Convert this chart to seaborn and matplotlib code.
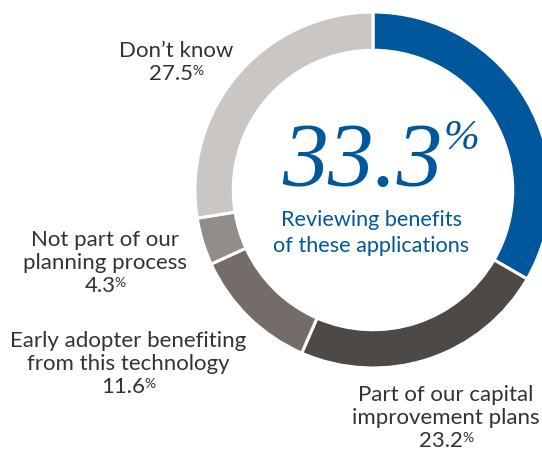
import matplotlib
matplotlib.use("Agg")
import matplotlib.pyplot as plt
import seaborn as sns

# slices clockwise from 12 o'clock
categories = [
    "Reviewing benefits\nof these applications",
    "Part of our capital\nimprovement plans",
    "Early adopter benefiting\nfrom this technology",
    "Not part of our\nplanning process",
    "Don\u2019t know",
]
values = [33.3, 23.2, 11.6, 4.3, 27.5]
colors = ["#01579b", "#4d4946", "#736c68", "#938d89", "#c9c6c3"]

sns.set_theme(style="white")
plt.rcParams["font.family"] = ["Lato", "DejaVu Sans"]

W, H = 542, 450
fig = plt.figure(figsize=(W / 100, H / 100), dpi=100)

cx, cy, r = 373, 190, 178
ax = fig.add_axes([(cx - r) / W, (H - cy - r) / H, 2 * r / W, 2 * r / H])
ax.pie(values, colors=colors, startangle=90, counterclock=False, radius=1,
       wedgeprops=dict(width=0.215, edgecolor="white", linewidth=2.2))
ax.set_xlim(-1, 1)
ax.set_ylim(-1, 1)
ax.set_aspect("equal")
ax.axis("off")


def px(x, y):
    return x / W, 1 - y / H


def label(x, y, text, value, color="#333333", size=16, gap=23):
    lines = text.split("\n")
    for i, ln in enumerate(lines):
        fig.text(*px(x, y + i * gap), ln, ha="center", va="baseline",
                 color=color, fontsize=size)
    t = fig.text(*px(x - 5, y + len(lines) * gap), f"{value:.1f}", ha="center",
                 va="baseline", color=color, fontsize=size)
    ax.annotate("%", xy=(1, 1), xycoords=t, xytext=(-0.5, -1), textcoords="offset points",
                ha="left", va="top", color=color, fontsize=size * 0.62)


label(176, 57, categories[4], values[4])
label(105, 246, categories[3], values[3])
label(128, 347, categories[2], values[2])
label(446, 401, categories[1], values[1])

blue = colors[0]
big = fig.text(*px(362, 186), f"{values[0]:.1f}", ha="center", va="baseline",
               color=blue, fontsize=66, family="Liberation Serif", style="italic")
ax.annotate("%", xy=(1, 1), xycoords=big, xytext=(1, 2), textcoords="offset points",
            ha="left", va="top", color=blue, fontsize=31,
            family="Liberation Serif", style="italic")
for i, ln in enumerate(categories[0].split("\n")):
    fig.text(*px(371, 226 + i * 26), ln, ha="center", va="baseline",
             color=blue, fontsize=15.6)

fig.savefig("out.png", dpi=100)
